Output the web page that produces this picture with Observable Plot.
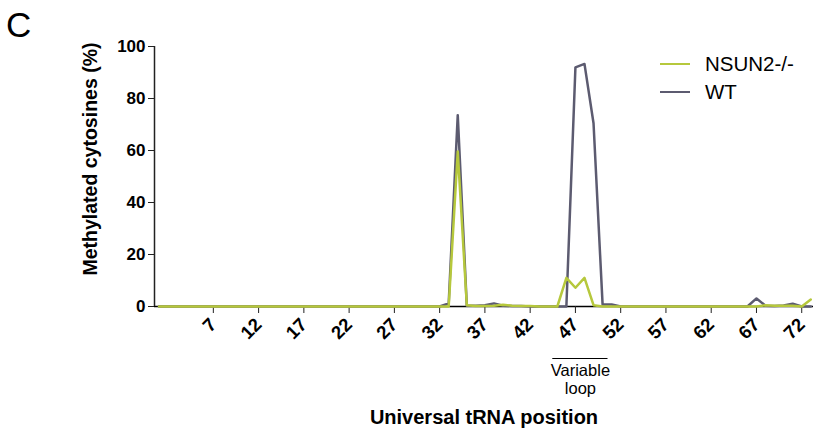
<!DOCTYPE html>
<html><head><meta charset="utf-8">
<script src="https://cdn.jsdelivr.net/npm/d3@7"></script>
<script src="https://cdn.jsdelivr.net/npm/@observablehq/plot@0.6"></script>
<style>
body{margin:0;background:#fff;font-family:"Liberation Sans",Arial,sans-serif;}
#wrap{position:relative;width:815px;height:435px;overflow:hidden;}
#panel{position:absolute;left:6px;top:7px;font-size:35px;line-height:1;color:#000;}
#legend{position:absolute;left:660px;top:50px;font-size:20.5px;color:#000;}
#ylab{position:absolute;left:90px;top:159px;width:0;height:0;}
#ylab span{position:absolute;left:0;top:0;transform:translate(-50%,-50%) rotate(-90deg);white-space:nowrap;font-size:19.5px;font-weight:bold;color:#000;}
.li{display:flex;align-items:center;height:28px;}
.sw{width:30px;height:2.5px;margin-right:15px;}
svg text{font-family:"Liberation Sans",Arial,sans-serif;}
</style></head><body>
<div id="wrap"><div id="panel">C</div><div id="legend"></div><div id="ylab"><span id="ylabText"></span></div></div>
<script>
// tRNA positions 1..73
const positions = [1,2,3,4,5,6,7,8,9,10,11,12,13,14,15,16,17,18,19,20,21,22,23,24,25,26,27,28,29,30,31,32,33,34,35,36,37,38,39,40,41,42,43,44,45,46,47,48,49,50,51,52,53,54,55,56,57,58,59,60,61,62,63,64,65,66,67,68,69,70,71,72,73];
// WT methylation (%)
const wtValues = [0,0,0,0,0,0,0,0,0,0, 0,0,0,0,0,0,0,0,0,0, 0,0,0,0,0,0,0,0,0,0, 0,0,1.2,73.6,0.3,0.3,0.5,1.2,0.3,0.2, 0.2,0,0,0,0,0,92,93.3,70.5,0.8, 0.8,0,0,0,0,0,0,0,0,0, 0,0,0,0,0,0,3.1,0.3,0.2,0.4, 1.1,0,0];
// NSUN2-/- methylation (%)
const nsun2Values = [0,0,0,0,0,0,0,0,0,0, 0,0,0,0,0,0,0,0,0,0, 0,0,0,0,0,0,0,0,0,0, 0,0,0,59.6,0.5,0.2,0.2,0.3,0.7,0.3, 0.2,0.2,0,0,0,11,7.2,11,0.5,0, 0,0,0,0,0,0,0,0,0,0, 0,0,0,0,0,0,0,0.5,0.3,0.3, 0.3,0,2.7];
const xTicks = [7,12,17,22,27,32,37,42,47,52,57,62,67,72];
const yTicks = [0,20,40,60,80,100];
const seriesNames = ["NSUN2-/-","WT"];
const seriesColors = ["#b6c83c","#5c5b70"];
const loopRange = [44.5, 50.6];
const loopLabel = ["Variable","loop"];
const xLabel = "Universal tRNA position";
const yLabel = "Methylated cytosines (%)";

const wt = positions.map((p,i)=>({pos:p, v:wtValues[i]}));
const ns = positions.map((p,i)=>({pos:p, v:nsun2Values[i]}));

const plot = Plot.plot({
  width: 815, height: 435,
  marginLeft: 154, marginRight: 2, marginTop: 46, marginBottom: 129,
  x: {domain: [0.5, 73.3]},
  y: {domain: [0, 100]},
  marks: [
    Plot.ruleY([0], {stroke: "#000", strokeWidth: 1.5}),
    Plot.axisY({ticks: yTicks, tickSize: 6, tickPadding: 3, fontSize: 17, fontWeight: "bold", label: null, stroke:"#222"}),
    Plot.ruleX([0.5], {y1: 0, y2: 100, stroke: "#222", strokeWidth: 1.5}),
    Plot.axisX({ticks: xTicks, tickSize: 7, tickPadding: 8, tickRotate: -45, fontSize: 18.5, fontWeight: "bold", label: null, stroke:"#222"}),
    Plot.line(wt, {x: "pos", y: "v", stroke: seriesColors[1], strokeWidth: 2.5}),
    Plot.line(ns, {x: "pos", y: "v", stroke: seriesColors[0], strokeWidth: 2.5}),
    Plot.ruleY([0], {x1: loopRange[0], x2: loopRange[1], dy: 52, stroke: "#000", strokeWidth: 1}),
    Plot.text([loopLabel[0]], {x: (loopRange[0]+loopRange[1])/2, frameAnchor: "bottom", dy: 69, fontSize: 16.5, fill: "#000"}),
    Plot.text([loopLabel[1]], {x: (loopRange[0]+loopRange[1])/2, frameAnchor: "bottom", dy: 87, fontSize: 16.5, fill: "#000"}),
    Plot.text([xLabel], {frameAnchor: "bottom", dy: 117, fontSize: 20, fontWeight: "bold", fill: "#000"})
  ]
});
plot.style.position = "absolute";
plot.style.left = "0"; plot.style.top = "0";
plot.style.background = "transparent";
const wrap = document.getElementById("wrap");
wrap.insertBefore(plot, wrap.firstChild);
document.getElementById("ylabText").textContent = yLabel;

const leg = document.getElementById("legend");
seriesNames.forEach((n,i)=>{
  const d = document.createElement("div"); d.className="li";
  const s = document.createElement("div"); s.className="sw"; s.style.background = seriesColors[i];
  const t = document.createElement("span"); t.textContent = n;
  d.appendChild(s); d.appendChild(t); leg.appendChild(d);
});
</script></body></html>
